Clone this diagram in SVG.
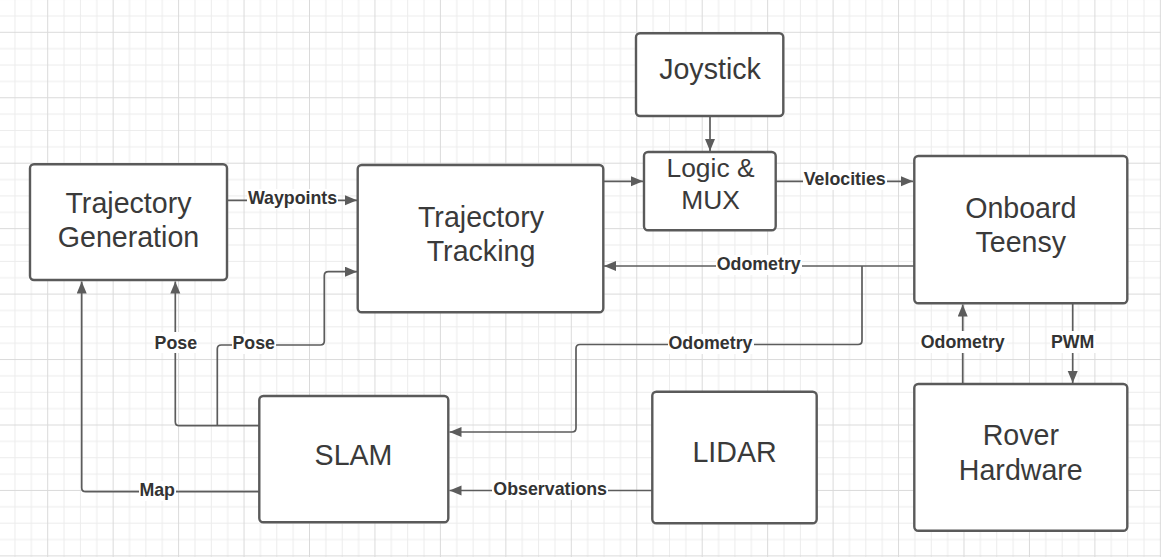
<svg xmlns="http://www.w3.org/2000/svg" width="1161" height="557" viewBox="0 0 1161 557">
  <defs>
    <pattern id="grid" patternUnits="userSpaceOnUse" x="47.2" y="31.8" width="65.45" height="65.45">
      <rect x="16.36" y="0" width="1" height="65.45" fill="#ececec"/>
      <rect x="32.73" y="0" width="1" height="65.45" fill="#ececec"/>
      <rect x="49.09" y="0" width="1" height="65.45" fill="#ececec"/>
      <rect x="0" y="16.36" width="65.45" height="1" fill="#ececec"/>
      <rect x="0" y="32.73" width="65.45" height="1" fill="#ececec"/>
      <rect x="0" y="49.09" width="65.45" height="1" fill="#ececec"/>
      <rect x="0" y="0" width="1" height="65.45" fill="#dadada"/>
      <rect x="0" y="0" width="65.45" height="1" fill="#dadada"/>
    </pattern>
    <marker id="arrow" markerUnits="userSpaceOnUse" markerWidth="13" markerHeight="11" refX="12" refY="5" orient="auto">
      <path d="M0,0 L12,5 L0,10 Z" fill="#5c5c5c"/>
    </marker>
    <style>
      .node rect { fill: #ffffff; stroke: #5a5a5a; stroke-width: 2.4; }
      .node text { font-family: "Liberation Sans", Arial, sans-serif; font-size: 28.6px; fill: #3a3a3a; text-anchor: middle; }
      .conn { fill: none; stroke: #5c5c5c; stroke-width: 1.7; }
      .arr { marker-end: url(#arrow); }
      .lbl rect { fill: #ffffff; }
      .lbl text { font-family: "Liberation Sans", Arial, sans-serif; font-size: 17.8px; font-weight: bold; fill: #333333; text-anchor: middle; }
    </style>
  </defs>

  <rect x="0" y="0" width="1161" height="557" fill="#ffffff"/>
  <rect x="0" y="0" width="1161" height="557" fill="url(#grid)"/>

  <g id="connectors">
    <path class="conn arr" d="M227,200.3 H357"/>
    <path class="conn arr" d="M603,181.3 H643"/>
    <path class="conn arr" d="M710,116 V151"/>
    <path class="conn arr" d="M776,181.3 H913"/>
    <path class="conn arr" d="M914,266 H604"/>
    <path class="conn arr" d="M862,266 V340.5 Q862,344.5 858,344.5 H580 Q576,344.5 576,348.5 V428 Q576,432 572,432 H449.5"/>
    <path class="conn arr" d="M652,490.5 H449.5"/>
    <path class="conn arr" d="M259,491.7 H85.7 Q81.7,491.7 81.7,487.7 V281.5"/>
    <path class="conn arr" d="M259,425.7 H179.3 Q175.3,425.7 175.3,421.7 V281.5"/>
    <path class="conn arr" d="M217.3,425.7 V349 Q217.3,345 221.3,345 H320.3 Q324.3,345 324.3,341 V275.7 Q324.3,271.7 328.3,271.7 H357"/>
    <path class="conn arr" d="M1072.7,304 V383"/>
    <path class="conn arr" d="M962.7,384 V304.5"/>

    <g class="lbl">
      <rect x="247" y="189" width="91" height="20"/>
      <text x="292.5" y="204.3">Waypoints</text>
    </g>
    <g class="lbl">
      <rect x="803" y="170" width="84" height="20"/>
      <text x="844.7" y="185">Velocities</text>
    </g>
    <g class="lbl">
      <rect x="716" y="255" width="86" height="20"/>
      <text x="758.7" y="270">Odometry</text>
    </g>
    <g class="lbl">
      <rect x="668" y="334" width="86" height="20"/>
      <text x="710.5" y="349">Odometry</text>
    </g>
    <g class="lbl">
      <rect x="492" y="480" width="116" height="20"/>
      <text x="550.2" y="494.5">Observations</text>
    </g>
    <g class="lbl">
      <rect x="139" y="481" width="37" height="20"/>
      <text x="157.2" y="495.7">Map</text>
    </g>
    <g class="lbl">
      <rect x="153" y="332" width="45" height="21"/>
      <text x="175.8" y="349.3">Pose</text>
    </g>
    <g class="lbl">
      <rect x="232" y="334" width="44" height="20"/>
      <text x="253.7" y="348.7">Pose</text>
    </g>
    <g class="lbl">
      <rect x="919" y="331" width="88" height="22"/>
      <text x="962.7" y="348">Odometry</text>
    </g>
    <g class="lbl">
      <rect x="1050" y="331" width="46" height="22"/>
      <text x="1072.7" y="348">PWM</text>
    </g>
  </g>

  <g id="trajectory-generation" class="node">
    <rect x="30" y="164.3" width="197" height="115.7" rx="4"/>
    <text x="128.5" y="212.7">Trajectory</text>
    <text x="128.5" y="246.7">Generation</text>
  </g>
  <g id="trajectory-tracking" class="node">
    <rect x="357.7" y="165" width="245.6" height="147.3" rx="4"/>
    <text x="481" y="226.7">Trajectory</text>
    <text x="481" y="260.7">Tracking</text>
  </g>
  <g id="joystick" class="node">
    <rect x="636" y="33.3" width="147.3" height="82.7" rx="4"/>
    <text x="710" y="79.3">Joystick</text>
  </g>
  <g id="logic-mux" class="node">
    <rect x="644" y="152" width="131.7" height="78.3" rx="4"/>
    <text x="710.5" y="177.3" style="font-size:26.4px">Logic &amp;</text>
    <text x="710.5" y="209.3" style="font-size:26.4px">MUX</text>
  </g>
  <g id="onboard-teensy" class="node">
    <rect x="914.3" y="156" width="213" height="147.3" rx="4"/>
    <text x="1020.8" y="217.7">Onboard</text>
    <text x="1020.8" y="251.7">Teensy</text>
  </g>
  <g id="rover-hardware" class="node">
    <rect x="914.3" y="384" width="213" height="146.7" rx="4"/>
    <text x="1020.8" y="445">Rover</text>
    <text x="1020.8" y="479.5">Hardware</text>
  </g>
  <g id="slam" class="node">
    <rect x="259.3" y="396" width="189" height="126.3" rx="4"/>
    <text x="353.5" y="465">SLAM</text>
  </g>
  <g id="lidar" class="node">
    <rect x="652.3" y="391.7" width="164.4" height="131.6" rx="4"/>
    <text x="734.5" y="461.7">LIDAR</text>
  </g>
</svg>
